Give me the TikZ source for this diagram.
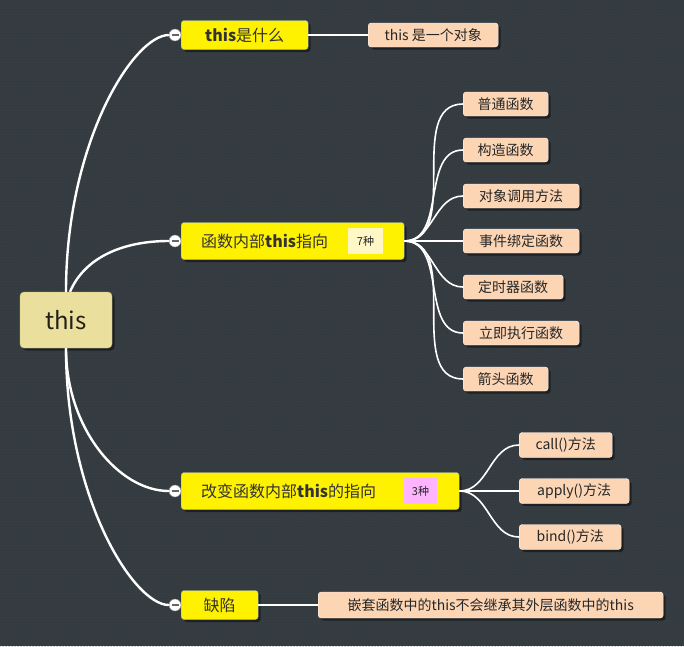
\documentclass[tikz,border=0pt]{standalone}
\usepackage{fontspec}
\setmainfont{Noto Sans CJK SC}
\usepackage{xcolor}
\usetikzlibrary{patterns,shadows}

\definecolor{bgcol}{HTML}{363D42}
\definecolor{dotcol}{HTML}{2B3135}
\definecolor{rootcol}{HTML}{EBDF9E}
\definecolor{rootline}{HTML}{C9BD7C}
\definecolor{leafcol}{HTML}{FCD5B5}
\definecolor{branchline}{HTML}{9DB9C2}
\definecolor{tagyellow}{HTML}{FFF7C6}
\definecolor{tagpink}{HTML}{FFB4FF}

\begin{document}
\begin{tikzpicture}[x=1pt,y=-1pt,
	shade/.style={drop shadow={opacity=0.45,shadow xshift=2.5pt,shadow yshift=-2.5pt,fill=black}},
	rootnode/.style={draw=rootline, fill=rootcol, rounded corners=4pt, minimum width=92pt, minimum height=56pt,
		font=\fontsize{24}{26}\selectfont, text=rootcol!15!black, shade},
	branch/.style={draw=branchline, fill=yellow, rounded corners=3pt, text=black!80,
		font=\fontsize{16}{18}\selectfont, anchor=west, shade},
	leaf/.style={draw=white!90!leafcol, fill=leafcol, rounded corners=3pt, text=black!85,
		font=\fontsize{14}{16}\selectfont, anchor=west, inner sep=0pt, shade},
	tag/.style={fill=#1, font=\fontsize{11}{12}\selectfont, text=black!85, inner sep=0pt},
	fold/.style={circle, draw=black!45, fill=white, minimum size=12pt, inner sep=0pt, path picture={
		\draw[black!60, line width=1.4pt] ([xshift=-3.5pt]path picture bounding box.center) -- ([xshift=3.5pt]path picture bounding box.center);}},
	trunk/.style={white, line width=2.4pt},
	twig/.style={white, line width=1.6pt}]

	% background
	\fill[bgcol] (0,0) rectangle (684,646);
	\fill[pattern=dots, pattern color=dotcol] (0,0) rectangle (684,646);
	\useasboundingbox (0,0) rectangle (684,646);

	\node[rootnode] (root) at (66,320) {this};

	% branches
	\node[branch, minimum width=127pt, minimum height=29pt] (what) at (181,35) {\textbf{this}是什么};
	\node[branch, minimum width=223pt, minimum height=37pt, inner xsep=20pt, text width=183pt, align=left] (inside) at (181,241) {函数内部\textbf{this}指向};
	\node[branch, minimum width=278pt, minimum height=37pt, inner xsep=20pt, text width=238pt, align=left] (change) at (181,491) {改变函数内部\textbf{this}的指向};
	\node[branch, minimum width=77pt, minimum height=29pt] (flaw) at (181,605) {缺陷};

	\node[tag=tagyellow, minimum width=35pt, minimum height=26pt] (seven) at (365.5,241) {7种};
	\node[tag=tagpink, minimum width=33pt, minimum height=26pt] (three) at (420.5,491) {3种};

	\node[fold] (f1) at (175,35) {};
	\node[fold] (f2) at (175,241) {};
	\node[fold] (f3) at (175,491) {};
	\node[fold] (f4) at (175,605) {};

	% leaves
	\node[leaf, minimum width=130pt, minimum height=24pt] (obj) at (368,35) {this 是一个对象};

	\node[leaf, minimum width=85pt, minimum height=24pt] (k1) at (463,104) {普通函数};
	\node[leaf, minimum width=85pt, minimum height=24pt] (k2) at (463,150) {构造函数};
	\node[leaf, minimum width=116pt, minimum height=24pt] (k3) at (463,196) {对象调用方法};
	\node[leaf, minimum width=116pt, minimum height=24pt] (k4) at (463,241) {事件绑定函数};
	\node[leaf, minimum width=100pt, minimum height=24pt] (k5) at (463,287) {定时器函数};
	\node[leaf, minimum width=116pt, minimum height=24pt] (k6) at (463,333) {立即执行函数};
	\node[leaf, minimum width=85pt, minimum height=24pt] (k7) at (463,379) {箭头函数};

	\node[leaf, minimum width=93pt, minimum height=25pt] (call) at (519,445) {call()方法};
	\node[leaf, minimum width=110pt, minimum height=25pt] (apply) at (519,491) {apply()方法};
	\node[leaf, minimum width=102pt, minimum height=25pt] (bind) at (519,537) {bind()方法};

	\node[leaf, minimum width=345pt, minimum height=26pt] (nest) at (318,605) {嵌套函数中的this不会继承其外层函数中的this};

	% connectors
	\draw[trunk] (root.north) .. controls +(0,-150) and +(-35,0) .. (f1.west);
	\draw[trunk] ([xshift=4pt]root.north) .. controls +(15,-35) and +(-45,0) .. (f2.west);
	\draw[trunk] (root.south) .. controls +(0,80) and +(-50,0) .. (f3.west);
	\draw[trunk] (root.south) .. controls +(0,150) and +(-35,0) .. (f4.west);

	\draw[twig] (what.east) -- (obj.west);
	\draw[twig] (flaw.east) -- (nest.west);
	\foreach \k in {k1,k2,k3,k4,k5,k6,k7}
		\draw[twig] (inside.east) to[out=0,in=180] (\k.west);
	\foreach \k in {call,apply,bind}
		\draw[twig] (change.east) to[out=0,in=180] (\k.west);
\end{tikzpicture}
\end{document}
